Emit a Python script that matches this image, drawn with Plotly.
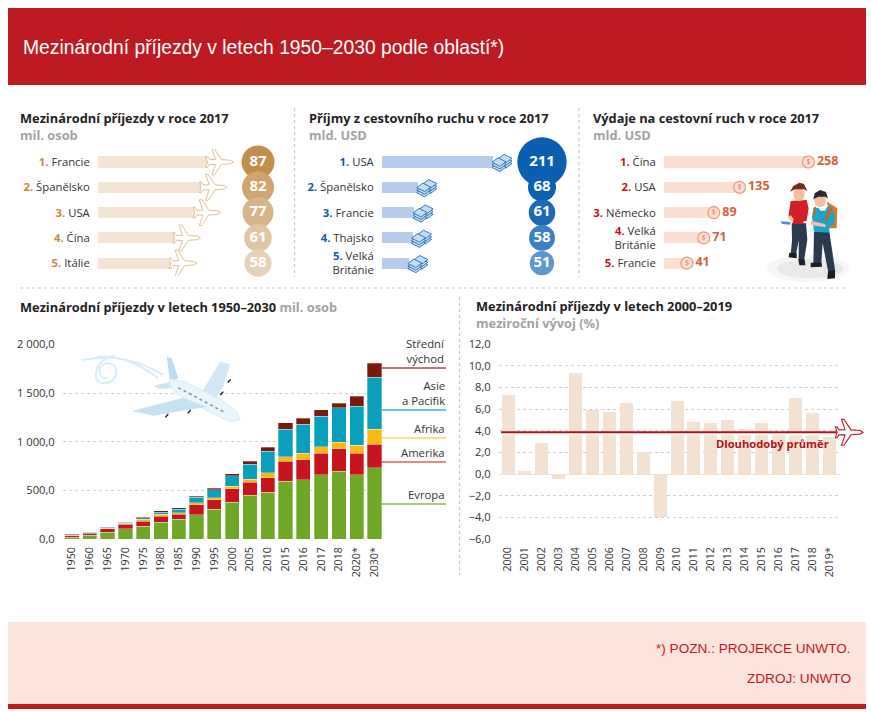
import math
import plotly.graph_objects as go

W, H = 871, 712
FONT = "Open Sans"

arr_names = ["Francie", "Španělsko", "USA", "Čína", "Itálie"]
arr_vals = [87, 82, 77, 61, 58]
inc_names = ["USA", "Španělsko", "Francie", "Thajsko", "Velká<br>Británie"]
inc_vals = [211, 68, 61, 58, 51]
exp_names = ["Čína", "USA", "Německo", "Velká<br>Británie", "Francie"]
exp_vals = [258, 135, 89, 71, 41]

years = ["1950", "1960", "1965", "1970", "1975", "1980", "1985", "1990", "1995", "2000",
         "2005", "2010", "2015", "2016", "2017", "2018", "2020*", "2030*"]
evropa = [17, 38, 72, 106, 133, 171, 202, 250, 305, 380, 449, 479, 596, 610, 661, 695, 661, 733]
amerika = [21, 20, 34, 48, 48, 65, 51, 103, 99, 137, 133, 151, 202, 205, 219, 233, 219, 243]
afrika = [3, 5, 7, 10, 24, 17, 17, 20, 21, 24, 34, 51, 48, 65, 69, 69, 86, 151]
asie = [3, 5, 7, 7, 11, 24, 38, 55, 82, 110, 151, 220, 284, 298, 311, 352, 400, 534]
vychod = [3, 7, 7, 7, 10, 14, 14, 14, 17, 20, 31, 44, 65, 65, 69, 45, 103, 144]

yoy_years = ["2000", "2001", "2002", "2003", "2004", "2005", "2006", "2007", "2008", "2009",
             "2010", "2011", "2012", "2013", "2014", "2015", "2016", "2017", "2018", "2019*"]
yoy_vals = [7.3, 0.3, 2.9, -0.5, 9.3, 5.9, 5.7, 6.6, 2.0, -4.0,
            6.7, 4.8, 4.7, 5.0, 4.2, 4.7, 3.9, 7.0, 5.6, 3.4]
long_avg = 3.85


def px(x):
    return x / W


def py(y):
    return 1 - y / H


def pts(points, close=True):
    s = "M" + " L".join(f"{px(a):.5f},{py(b):.5f}" for a, b in points)
    return s + (" Z" if close else "")


fig = go.Figure()
shapes = []
notes = []


def rect(x0, y0, x1, y1, color):
    shapes.append(dict(type="rect", xref="paper", yref="paper", x0=px(x0), x1=px(x1), y0=py(y1), y1=py(y0),
                       fillcolor=color, line_width=0, layer="below"))


def line(x0, y0, x1, y1, color, width=1, dash="solid", layer="below"):
    shapes.append(dict(type="line", xref="paper", yref="paper", x0=px(x0), x1=px(x1), y0=py(y0), y1=py(y1),
                       line=dict(color=color, width=width, dash=dash), layer=layer))


def poly(points, color, lw=0, lc=None, opacity=1):
    shapes.append(dict(type="path", xref="paper", yref="paper", path=pts(points), fillcolor=color,
                       line=dict(width=lw, color=lc or color), opacity=opacity, layer="above"))


def ellipse(x0, y0, x1, y1, color, opacity=1):
    shapes.append(dict(type="circle", xref="paper", yref="paper", layer="above", x0=px(x0), x1=px(x1),
                       y0=py(y1), y1=py(y0), fillcolor=color, line_width=0, opacity=opacity))


def note(text, x, y, size=12, color="#222", xa="left", ya="middle", font=FONT):
    notes.append(dict(text=text, xref="paper", yref="paper", x=px(x), y=py(y), xanchor=xa, yanchor=ya,
                      showarrow=False, borderpad=0, align="right" if xa == "right" else "left",
                      font=dict(family=font, size=size, color=color)))


# page furniture
rect(8, 8, 866, 85, "#be1a22")
rect(8, 622, 866, 704, "#fbe4dc")
rect(8, 704, 866, 709, "#be1a22")
note("Mezinárodní příjezdy v letech 1950–2030 podle oblastí*)", 22, 48, 19.3, "#ffffff", font="Liberation Sans")
note("*) POZN.: PROJEKCE UNWTO.", 852, 648, 13.6, "#c8141e", xa="right", font="Liberation Sans")
note("ZDROJ: UNWTO", 852, 678, 13.6, "#c8141e", xa="right", font="Liberation Sans")

DOT = "#c8c8c8"
line(20, 288, 846, 288, DOT, 1.2, "dot")
line(294.5, 108, 294.5, 277, DOT, 1.2, "dot")
line(579, 108, 579, 277, DOT, 1.2, "dot")
line(459.5, 297, 459.5, 575, DOT, 1.2, "dot")

# panel titles
TS = 12.8
GREY = "<b><span style='color:#a3a3a3'>{}</span></b>"
note("<b>Mezinárodní příjezdy v roce 2017</b><br>" + GREY.format("mil. osob"), 19, 127, TS)
note("<b>Příjmy z cestovního ruchu v roce 2017</b><br>" + GREY.format("mld. USD"), 308, 127, TS)
note("<b>Výdaje na cestovní ruch v roce 2017</b><br>" + GREY.format("mld. USD"), 592, 127, TS)
note("<b>Mezinárodní příjezdy v letech 1950–2030</b> " + GREY.format("mil. osob"), 19, 307, TS)
note("<b>Mezinárodní příjezdy v letech 2000–2019</b><br>" + GREY.format("meziroční vývoj (%)"), 475, 315, TS)

TOP_ROW0, ROW = 162, 25.3
row_top, row_bot = TOP_ROW0 - ROW / 2, TOP_ROW0 + 4.5 * ROW
rows = list(range(5))


def rank_labels(names, color):
    return [f"<b><span style='color:{color}'>{i + 1}.</span></b> {n}" for i, n in enumerate(names)]


def top_axes(n, x0, x1, rng, names, color):
    layout[f"xaxis{n}"] = dict(domain=[px(x0), px(x1)], range=rng, visible=False, fixedrange=True, anchor=f"y{n}",
                               automargin=False)
    layout[f"yaxis{n}"] = dict(domain=[py(row_bot), py(row_top)], range=[4.5, -0.5], anchor=f"x{n}", fixedrange=True,
                               tickmode="array", tickvals=rows, ticktext=rank_labels(names, color), automargin=False,
                               ticks="outside", ticklen=5, tickcolor="rgba(0,0,0,0)", showline=False, showgrid=False,
                               zeroline=False, tickfont=dict(family=FONT, size=11.3, color="#333"))


layout = {}
SCALE1, SCALE2, SCALE3 = 1.27, 0.526, 0.56
top_axes(1, 98, 285, [0, 187 / SCALE1], arr_names, "#c48a3f")
top_axes(2, 382, 575, [0, 193 / SCALE2], inc_names, "#1459a8")
top_axes(3, 664, 850, [0, 186 / SCALE3], exp_names, "#c0141e")

# panel 1
fig.add_trace(go.Bar(x=arr_vals, y=rows, orientation="h", width=0.44, marker_color="#f4e4d3", marker_line_width=0,
                     xaxis="x", yaxis="y", showlegend=False))
xc1 = (258 - 98) / SCALE1
fig.add_trace(go.Scatter(x=[xc1] * 5, y=rows, mode="markers+text", text=[str(v) for v in arr_vals],
                         textposition="middle center",
                         textfont=dict(family=FONT, size=15, color="#ffffff", weight="bold"),
                         marker=dict(size=[3.54 * math.sqrt(v) for v in arr_vals],
                                     color=["#c18e4c", "#cfa46e", "#d8b589", "#e0c6a5", "#e6d2b8"],
                                     opacity=1, line_width=0),
                         xaxis="x", yaxis="y", showlegend=False, cliponaxis=False))

# panel 2
fig.add_trace(go.Bar(x=inc_vals, y=rows, orientation="h", width=0.44, marker_color="#b7cbec", marker_line_width=0,
                     xaxis="x2", yaxis="y2", showlegend=False))
xc2 = (542 - 382) / SCALE2
fig.add_trace(go.Scatter(x=[xc2] * 5, y=rows, mode="markers+text", text=[str(v) for v in inc_vals],
                         textposition="middle center",
                         textfont=dict(family=FONT, size=15, color="#ffffff", weight="bold"),
                         marker=dict(size=[3.4 * math.sqrt(v) for v in inc_vals],
                                     color=["#0b5fb0", "#0d60b3", "#1a6ab8", "#3a80c4", "#5c97d0"],
                                     opacity=1, line_width=0),
                         xaxis="x2", yaxis="y2", showlegend=False, cliponaxis=False))

# panel 3
fig.add_trace(go.Bar(x=exp_vals, y=rows, orientation="h", width=0.44, marker_color="#fbdfd3", marker_line_width=0,
                     xaxis="x3", yaxis="y3", showlegend=False))
fig.add_trace(go.Scatter(x=exp_vals, y=rows, mode="markers+text", text=[f"<b>{v}</b>" for v in exp_vals],
                         textposition="middle right",
                         textfont=dict(family=FONT, size=12.5, color="#d8603c"),
                         marker=dict(size=12, color="#fbdfd3", opacity=1, line=dict(color="#e89a7c", width=1.2)),
                         xaxis="x3", yaxis="y3", showlegend=False, cliponaxis=False))
fig.add_trace(go.Scatter(x=exp_vals, y=rows, mode="text", text=["$"] * 5, textposition="middle center",
                         textfont=dict(family=FONT, size=7, color="#e07a55"),
                         xaxis="x3", yaxis="y3", showlegend=False, cliponaxis=False))

PLANE = ("M 25,0 L 22,1.8 L 13,2.4 L 6,13 L 3.5,13 L 7,2.6 L 1,2.4 L -1,5.5 L -2.5,5.5 L -1,0 "
         "L -2.5,-5.5 L -1,-5.5 L 1,-2.4 L 7,-2.6 L 3.5,-13 L 6,-13 L 13,-2.4 L 22,-1.8 Z")


def anchored(path, xa, ya, xref, yref, fill, lc, lw=1):
    shapes.append(dict(type="path", xsizemode="pixel", ysizemode="pixel", xanchor=xa, yanchor=ya,
                       xref=xref, yref=yref, path=path, fillcolor=fill, line=dict(color=lc, width=lw), layer="above"))


for v, r in zip(arr_vals, rows):
    anchored(PLANE, v, r, "x", "y", "#ffffff", "#e0c095")


def bill_stack(dx, dy):
    out = []
    for k in range(3):
        yo = dy - 4 + k * 2.6
        xo = dx
        out.append(f"M {xo},{yo} L {xo + 8},{yo - 4} L {xo + 14},{yo + 0.5} L {xo + 6},{yo + 4.5} Z")
    return out


for v, r in zip(inc_vals, rows):
    for p in bill_stack(5, 2) + bill_stack(-1, -1.5):
        anchored(p, v, r, "x2", "y2", "#c4dcf2", "#1f6fb4", 0.9)

# stacked chart
CH_TOP, CH_BOT = 344.5, 539
layout["xaxis4"] = dict(domain=[px(63), px(382)], range=[-0.506, 17.42], anchor="y4", fixedrange=True, automargin=False,
                        tickmode="array", tickvals=list(range(len(years))), ticktext=years, tickangle=-90,
                        ticks="outside", ticklen=3, tickcolor="rgba(0,0,0,0)", showgrid=False, zeroline=False,
                        showline=False, tickfont=dict(family=FONT, size=10.6, color="#333"))
layout["yaxis4"] = dict(domain=[py(CH_BOT), py(CH_TOP)], range=[0, 2000], anchor="x4", fixedrange=True, automargin=False,
                        tickmode="array", tickvals=[0, 500, 1000, 1500, 2000],
                        ticktext=["0,0", "500,0", "1 000,0", "1 500,0", "2 000,0"],
                        showgrid=True, gridcolor="#cfcfcf", griddash="dot", gridwidth=1, zeroline=False, showline=False,
                        ticks="outside", ticklen=5, tickcolor="rgba(0,0,0,0)",
                        tickfont=dict(family=FONT, size=11.2, color="#333"))
idx = list(range(len(years)))
for name, vals, col in [("Evropa", evropa, "#6fa827"), ("Amerika", amerika, "#c8141e"), ("Afrika", afrika, "#fbb813"),
                        ("Asie a Pacifik", asie, "#0a9fbc"), ("Střední východ", vychod, "#7a1a0c")]:
    fig.add_trace(go.Bar(x=idx, y=vals, name=name, width=0.8, marker_color=col,
                         marker_line=dict(color="rgba(255,255,255,0.6)", width=0.5),
                         xaxis="x4", yaxis="y4", showlegend=False))

for label, yy, col in [("Střední<br>východ", 368, "#a0524a"), ("Asie<br>a Pacifik", 410, "#30b8d0"),
                       ("Afrika", 438, "#fdd468"), ("Amerika", 462, "#e85a62"), ("Evropa", 504, "#8cb850")]:
    line(382, yy, 446, yy, col, 1.6, layer="above")
    note(label, 446, yy - 1, 11.3, "#333", xa="right", ya="bottom")

# year over year chart
layout["xaxis5"] = dict(domain=[px(499), px(840)], range=[-0.533, 19.64], anchor="y5", fixedrange=True, automargin=False,
                        tickmode="array", tickvals=list(range(len(yoy_years))), ticktext=yoy_years, tickangle=-90,
                        showgrid=False, zeroline=False, showline=False,
                        ticks="outside", ticklen=3, tickcolor="rgba(0,0,0,0)",
                        tickfont=dict(family=FONT, size=10.6, color="#333"))
yt = [-6, -4, -2, 0, 2, 4, 6, 8, 10, 12]
layout["yaxis5"] = dict(domain=[py(539), py(344)], range=[-6, 12], anchor="x5", fixedrange=True, automargin=False,
                        tickmode="array", tickvals=yt,
                        ticktext=[f"{v:.1f}".replace(".", ",").replace("-", "−") for v in yt],
                        showgrid=True, gridcolor="#cfcfcf", griddash="dot", gridwidth=1,
                        zeroline=True, zerolinecolor="#f0e2d2", zerolinewidth=1, showline=False,
                        ticks="outside", ticklen=5, tickcolor="rgba(0,0,0,0)",
                        tickfont=dict(family=FONT, size=11.2, color="#333"))
yi = list(range(len(yoy_years)))
fig.add_trace(go.Bar(x=yi, y=yoy_vals, width=0.77, marker_color="#f3e2d1", marker_line_width=0,
                     xaxis="x5", yaxis="y5", showlegend=False))
fig.add_trace(go.Scatter(x=[-0.41, 19.64], y=[long_avg - 0.16] * 2, mode="lines", line=dict(color="#ffffff", width=2.6),
                         xaxis="x5", yaxis="y5", showlegend=False, hoverinfo="skip"))
fig.add_trace(go.Scatter(x=[-0.41, 19.64], y=[long_avg] * 2, mode="lines", line=dict(color="#b0101a", width=2),
                         xaxis="x5", yaxis="y5", showlegend=False))
anchored(PLANE, px(838), long_avg, "paper", "y5", "#ffffff", "#c8141e", 1.1)
note("<b>Dlouhodobý průměr</b>", 772, 443, 11.2, "#b5121b", xa="center")


# big airliner illustration (zoom coords -> page)
def Z(p):
    return [(a / 3 + 10, b / 3 + 295) for a, b in p]


def curve(start, segs, color, width):
    def f(p):
        q = Z([p])[0]
        return f"{px(q[0]):.5f},{py(q[1]):.5f}"
    d = "M" + f(start) + " " + " ".join("C" + " ".join(f(p) for p in s) for s in segs)
    shapes.append(dict(type="path", xref="paper", yref="paper", layer="above", path=d,
                       fillcolor="rgba(0,0,0,0)", line=dict(color=color, width=width)))


curve((215, 195), [[(280, 185), (350, 175), (460, 240)]], "#d8edf9", 2)
curve((260, 185), [[(340, 180), (400, 215), (445, 250)]], "#d8edf9", 2)
curve((315, 182), [[(250, 190), (240, 270), (285, 265)], [(330, 260), (330, 200), (290, 205)],
                   [(260, 210), (262, 250), (292, 250)]], "#d8edf9", 2)
poly(Z([(570, 300), (630, 200), (660, 208), (640, 275), (610, 318)]), "#d3e8f6")
poly(Z([(470, 185), (485, 190), (505, 250), (480, 258)]), "#bcdcf0")
poly(Z([(430, 272), (478, 262), (490, 280), (448, 282)]), "#cfe5f4")
poly(Z([(478, 250), (530, 262), (640, 318), (680, 350), (690, 375), (660, 380), (600, 352), (500, 298), (480, 272)]), "#eaf5fb", 0.5, "#bcdcf0")
poly(Z([(365, 348), (520, 308), (590, 336), (530, 345), (430, 362)]), "#c6e1f2")
for ex, ey in [(470, 362), (537, 350), (635, 295), (657, 258)]:
    poly(Z([(ex - 5, ey + 3), (ex + 4, ey - 7), (ex + 6, ey - 3), (ex - 3, ey + 7)]), "#223")
shapes.append(dict(type="path", xref="paper", yref="paper", layer="above",
                   path=pts(Z([(505, 278), (640, 350)]), close=False),
                   line=dict(color="#7f97a8", width=1.6, dash="dot")))


# travellers illustration
def Q(p):
    return [(a / 3 + 580, b / 3 + 100) for a, b in p]


def QE(x0, y0, x1, y1, color, opacity=1):
    (a, b), (c, d) = Q([(x0, y0), (x1, y1)])
    ellipse(a, b, c, d, color, opacity)


QE(560, 465, 810, 545, "#e6e6e6", 0.35)
QE(590, 478, 790, 535, "#d8d8d8", 0.4)
# woman
poly(Q([(635, 370), (678, 370), (682, 420), (672, 482), (656, 482), (656, 420), (648, 465), (632, 465), (636, 420)]), "#2b3a4e")
poly(Q([(628, 458), (650, 460), (650, 475), (626, 472)]), "#1e1e22")
poly(Q([(655, 478), (674, 478), (676, 496), (658, 496)]), "#1e1e22")
poly(Q([(632, 303), (680, 300), (686, 325), (680, 362), (668, 366), (676, 372), (636, 372), (640, 362), (625, 350)]), "#d01f26")
poly(Q([(622, 350), (632, 346), (642, 358), (634, 366)]), "#f2bfa0")
poly(Q([(602, 364), (632, 366), (630, 374), (606, 372)]), "#4a90d0")
QE(640, 263, 674, 303, "#f2bfa0")
poly(Q([(630, 275), (640, 258), (658, 248), (672, 252), (682, 274), (672, 268), (645, 268)]), "#7c2a1c")
# man
poly(Q([(742, 305), (772, 325), (770, 385), (738, 385)]), "#d8792c")
poly(Q([(702, 395), (748, 395), (766, 515), (745, 518), (728, 430), (724, 490), (700, 490)]), "#2b3a4e")
poly(Q([(692, 488), (725, 488), (726, 500), (692, 502)]), "#1e1e22")
poly(Q([(744, 514), (765, 512), (765, 535), (742, 537)]), "#1e1e22")
poly(Q([(700, 325), (752, 318), (764, 345), (762, 375), (748, 378), (748, 398), (702, 395), (696, 350)]), "#1aa6c8")
poly(Q([(712, 320), (745, 315), (735, 332), (722, 332)]), "#ffffff")
poly(Q([(692, 362), (735, 372), (738, 382), (694, 376)]), "#f2bfa0")
poly(Q([(702, 322), (708, 320), (704, 350), (698, 350)]), "#c8622a")
poly(Q([(748, 320), (758, 325), (740, 365), (734, 360)]), "#c8622a")
QE(703, 278, 738, 322, "#f2bfa0")
poly(Q([(700, 298), (704, 280), (720, 270), (738, 276), (744, 296), (736, 290), (715, 290)]), "#2a2a30")

fig.update_layout(**layout)
fig.update_layout(width=W, height=H, margin=dict(l=0, r=0, t=0, b=0, autoexpand=False), paper_bgcolor="#ffffff",
                  plot_bgcolor="rgba(0,0,0,0)", barmode="stack", shapes=shapes, annotations=notes, showlegend=False,
                  font=dict(family=FONT))
fig.write_html("out.html", config={"displayModeBar": False},
               post_script="document.body.style.margin='0';document.documentElement.style.overflow='hidden';")
